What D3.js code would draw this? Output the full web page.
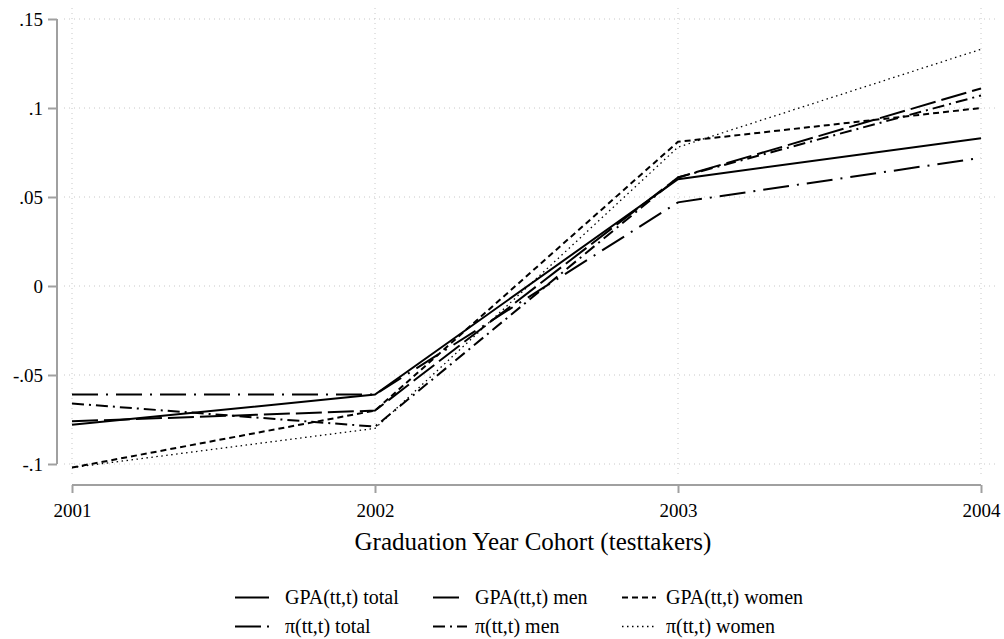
<!DOCTYPE html>
<html>
<head>
<meta charset="utf-8">
<script src="https://cdnjs.cloudflare.com/ajax/libs/d3/7.8.5/d3.min.js"></script>
</head>
<body style="margin:0; background:#fff">
<div id="wrapper"></div>
<script>
var width = 1004, height = 639;
var serif = "Liberation Serif";

var years = [2001, 2002, 2003, 2004];
var yTicks = [-0.1, -0.05, 0, 0.05, 0.1, 0.15];
var yTickLabels = ["-.1", "-.05", "0", ".05", ".1", ".15"];

var seriesNames = ["GPA(tt,t) total", "GPA(tt,t) men", "GPA(tt,t) women",
                   "\u03c0(tt,t) total", "\u03c0(tt,t) men", "\u03c0(tt,t) women"];

var gpaTotal = [-0.078, -0.061, 0.060, 0.083];
var gpaMen = [-0.061, -0.061, 0.047, 0.072];
var gpaWomen = [-0.102, -0.070, 0.081, 0.100];
var piTotal = [-0.076, -0.070, 0.061, 0.111];
var piMen = [-0.066, -0.079, 0.061, 0.107];
var piWomen = [-0.102, -0.080, 0.078, 0.133];

var seriesValues = [gpaTotal, gpaMen, gpaWomen, piTotal, piMen, piWomen];

// dash style per series
var dashes = [null, "26,8,2,8", "6,4", "26,6", "12,5,2,5", "1.5,3.5"];
var widths = [2, 2, 2, 2, 2, 1.3];

var svg = d3.select("#wrapper").append("svg")
	.attr("width", width)
	.attr("height", height)
	.attr("font-family", serif);

var x = d3.scaleLinear().domain([2001, 2004]).range([72, 981]);
var y = d3.scaleLinear().domain([-0.1, 0.15]).range([464, 19]);

// grid
var grid = svg.append("g");
yTicks.forEach(function(t){
	grid.append("line")
		.attr("x1", 64).attr("x2", 995)
		.attr("y1", y(t)).attr("y2", y(t))
		.attr("stroke", "#c8c8c8").attr("stroke-width", 1)
		.attr("stroke-dasharray", "1,4");
});
years.forEach(function(t){
	grid.append("line")
		.attr("x1", x(t)).attr("x2", x(t))
		.attr("y1", 8).attr("y2", 478)
		.attr("stroke", "#c8c8c8").attr("stroke-width", 1)
		.attr("stroke-dasharray", "1,4");
});

// y axis
var yAxis = svg.append("g")
	.attr("transform", "translate(57,0)")
	.call(d3.axisLeft(y).tickValues(yTicks)
		.tickFormat(function(d, i){ return yTickLabels[i]; })
		.tickSize(9).tickPadding(5));
yAxis.attr("font-family", serif).attr("font-size", 19);
yAxis.select(".domain").attr("stroke", "#a0a0a0").attr("stroke-width", 2)
	.attr("d", "M0," + y(-0.1) + "V" + y(0.15));
yAxis.selectAll(".tick line").attr("stroke", "#a0a0a0").attr("stroke-width", 2);
yAxis.selectAll(".tick text").attr("fill", "#000");

// x axis
var xAxis = svg.append("g")
	.attr("transform", "translate(0,485)")
	.call(d3.axisBottom(x).tickValues(years)
		.tickFormat(d3.format("d"))
		.tickSize(8).tickPadding(11));
xAxis.attr("font-family", serif).attr("font-size", 19);
xAxis.select(".domain").attr("stroke", "#a0a0a0").attr("stroke-width", 2)
	.attr("d", "M" + x(2001) + ",0H" + x(2004));
xAxis.selectAll(".tick line").attr("stroke", "#a0a0a0").attr("stroke-width", 2);
xAxis.selectAll(".tick text").attr("fill", "#000");

svg.append("text")
	.attr("x", 533).attr("y", 550)
	.attr("text-anchor", "middle")
	.attr("font-family", serif)
	.attr("font-size", 25)
	.text("Graduation Year Cohort (testtakers)");

// lines
var line = d3.line()
	.x(function(d, i){ return x(years[i]); })
	.y(function(d){ return y(d); });

seriesValues.forEach(function(vals, i){
	svg.append("path")
		.attr("d", line(vals))
		.attr("fill", "none")
		.attr("stroke", "#000")
		.attr("stroke-width", widths[i])
		.attr("stroke-dasharray", dashes[i]);
});

// legend
var legCols = [{lx: 235, tx: 285}, {lx: 433, tx: 475}, {lx: 622, tx: 666}];
var legRows = [597.5, 626.5];
seriesNames.forEach(function(name, i){
	var c = legCols[i % 3], r = legRows[Math.floor(i / 3)];
	svg.append("line")
		.attr("x1", c.lx).attr("x2", c.lx + 34)
		.attr("y1", r).attr("y2", r)
		.attr("stroke", "#000")
		.attr("stroke-width", widths[i])
		.attr("stroke-dasharray", dashes[i]);
	svg.append("text")
		.attr("x", c.tx).attr("y", r + 6)
		.attr("font-family", serif)
		.attr("font-size", 20)
		.text(name);
});
</script>
</body>
</html>
